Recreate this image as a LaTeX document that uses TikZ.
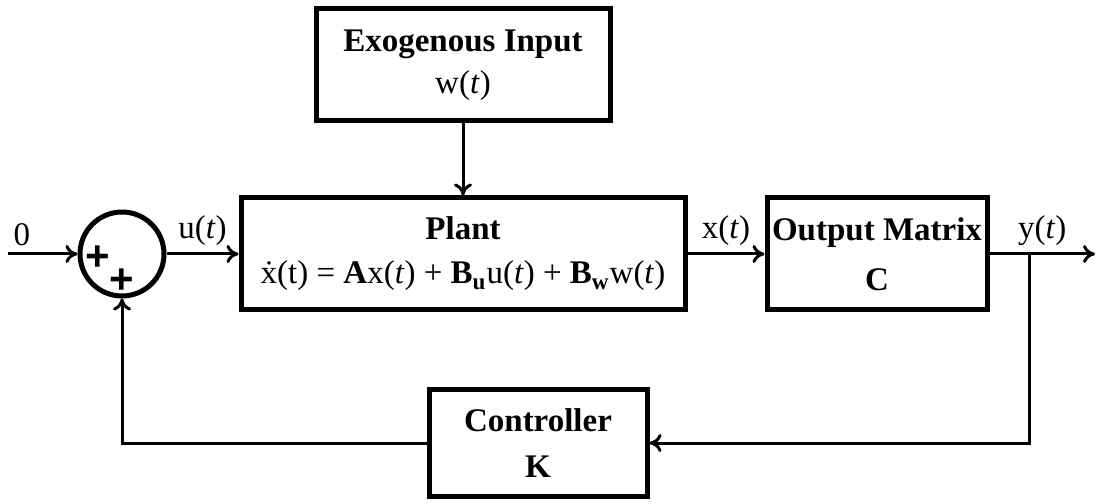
\documentclass[tikz,border=0pt]{standalone}
\usepackage{fontspec}
\setmainfont{Liberation Serif}
\setsansfont{Liberation Sans}
\usetikzlibrary{arrows.meta,positioning}

\begin{document}
\begin{tikzpicture}[x=0.5pt, y=0.5pt, node distance=36pt,
  every node/.style={font=\fontsize{16.5}{21}\selectfont},
  block/.style={draw, line width=2.5pt, align=center, inner sep=0pt},
  plus/.style={font=\sffamily\bfseries\fontsize{21}{21}\selectfont, inner sep=0pt},
  sig/.style={line width=1.5pt, -{To[length=6pt,width=9pt]}}]
  \useasboundingbox (0,0) rectangle (1096,503);
  % summing junction
  \node[circle, draw, line width=2.5pt, minimum size=42pt] (sum) at (122,249) {};
  \node[plus] (p1) at (98,245) {+};
  \node[plus] (p2) at (122,222) {+};
  % blocks
  \node[block, minimum width=222pt, minimum height=56pt, right=of sum] (plant)
    {\textbf{Plant}\\[1pt] \.{x}(t) = \textbf{A}x(\textit{t}) + \textbf{B}\textsubscript{\textbf{u}}u(\textit{t}) + \textbf{B}\textsubscript{\textbf{w}}w(\textit{t})};
  \node[block, minimum width=147pt, minimum height=56pt, above=of plant] (exo)
    {\textbf{Exogenous Input}\\ w(\textit{t})};
  \node[block, minimum width=110pt, minimum height=56pt, right=38.5pt of plant] (outmat)
    {\textbf{Output Matrix}\\[4pt] \textbf{C}};
  \node[block, minimum width=109pt, minimum height=53pt] (ctrl) at (538,60)
    {\textbf{Controller}\\[2pt] \textbf{K}};
  \coordinate (in) at (8,249);
  \coordinate (out) at (1095,249);
  \coordinate (branch) at (1029,249);
  % signals
  \draw[sig] (in) -- node[above, pos=0.2] {0} (sum);
  \draw[sig] (sum) -- node[above] {u(\textit{t})} (plant);
  \draw[sig] (exo) -- (plant);
  \draw[sig] (plant) -- node[above] {x(\textit{t})} (outmat);
  \draw[sig] (outmat) -- node[above] {y(\textit{t})} (out);
  \draw[sig] (branch) |- (ctrl);
  \draw[sig] (ctrl) -| (sum);
\end{tikzpicture}
\end{document}
